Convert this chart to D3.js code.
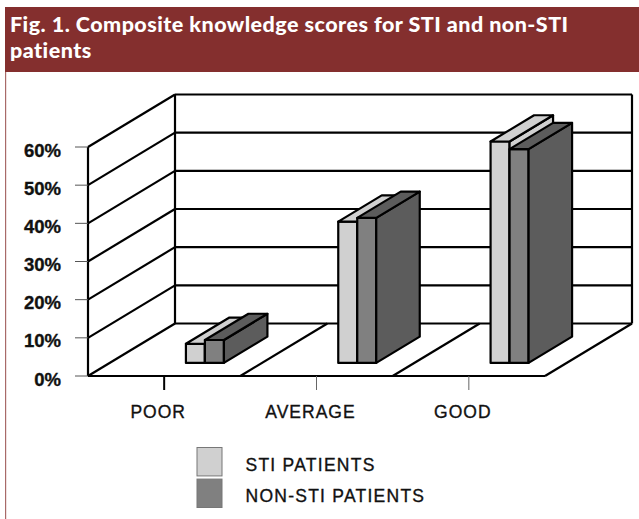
<!DOCTYPE html>
<html>
<head>
<meta charset="utf-8">
<script src="https://cdn.jsdelivr.net/npm/d3@7"></script>
<style>
  html, body { margin: 0; padding: 0; background: #fff; }
  svg { display: block; }
</style>
</head>
<body>
<div id="chart"></div>
<script>
const categories = ['POOR', 'AVERAGE', 'GOOD'];
const seriesNames = ['STI PATIENTS', 'NON-STI PATIENTS'];
const stiValues = [5, 37, 58];
const nonStiValues = [6, 38, 56];
const yTicks = [0, 10, 20, 30, 40, 50, 60];
const titleLines = ['Fig. 1. Composite knowledge scores for STI and non-STI', 'patients'];

const width = 639, height = 519;
const svg = d3.select('#chart').append('svg').attr('width', width).attr('height', height);

// Scales. The y scale goes to 60 at the front plane, depth is a 0..1 scale
const y = d3.scaleLinear().domain([0, 60]).range([376, 147]);
const x = d3.scaleBand().domain(categories).range([88, 545]);
const depthX = d3.scaleLinear().domain([0, 1]).range([0, 87]);
const depthY = d3.scaleLinear().domain([0, 1]).range([0, -52.5]);
const barW = 19;
const barDepth = [0.25, 0.75];
const lineW = 2.2;

// project a front-plane position back by depth z
const pt = (px, val, z) => [px + depthX(z), y(val) + depthY(z)];
const poly = pts => pts.map(p => p.join(',')).join(' ');
const seg = (g, a, b, sw = lineW, col = '#000') => g.append('line')
  .attr('x1', a[0]).attr('y1', a[1]).attr('x2', b[0]).attr('y2', b[1])
  .attr('stroke', col).attr('stroke-width', sw);
// same look for all the Arial-like labels, slight stroke to thicken them
const label = (sel, size) => sel
  .attr('font-family', '"Liberation Sans", Arial, sans-serif').attr('font-size', size)
  .attr('fill', '#111').attr('stroke', '#111').attr('stroke-width', 0.35);

// Header
svg.append('rect').attr('x', 5).attr('y', 7).attr('width', width - 5).attr('height', 65).attr('fill', '#842f2e');
svg.append('rect').attr('x', 5).attr('y', 72).attr('width', 1.2).attr('height', height - 72).attr('fill', '#a86a68');
svg.selectAll('text.title').data(titleLines).enter().append('text')
  .attr('class', 'title')
  .attr('x', 10).attr('y', (d, i) => 32 + i * 26)
  .attr('fill', '#fff')
  .attr('font-family', 'Lato, sans-serif').attr('font-weight', 900).attr('font-size', 21.5)
  .attr('letter-spacing', 0.46)
  .text(d => d);

// Walls and floor
const walls = svg.append('g');
const xLeft = x.range()[0], xRight = x.range()[1];
const yMax = d3.max(y.domain());
yTicks.filter(t => t > 0).forEach(t => seg(walls, pt(xLeft, t, 1), pt(xRight, t, 1)));
yTicks.forEach(t => seg(walls, pt(xLeft, t, 0), pt(xLeft, t, 1)));
seg(walls, pt(xLeft, 0, 0), pt(xLeft, yMax, 0));
seg(walls, pt(xLeft, 0, 1), pt(xLeft, yMax, 1));
seg(walls, pt(xRight, 0, 1), pt(xRight, yMax, 1));
seg(walls, pt(xLeft, 0, 1), pt(xRight, 0, 1));
seg(walls, pt(xLeft, 0, 0), pt(xRight, 0, 0));
seg(walls, pt(xRight, 0, 0), pt(xRight, 0, 1));
categories.slice(1).forEach(c => seg(walls, pt(x(c), 0, 0), pt(x(c), 0, 1)));

// Value ticks and labels
yTicks.forEach(t => {
  seg(walls, [75, y(t)], [xLeft, y(t)], 1, '#555');
  walls.append('text').attr('x', 61).attr('y', y(t) + 9.5)
    .attr('text-anchor', 'end')
    .attr('font-weight', 700)
    .call(label, 18.5).text(t + '%');
});

// Category ticks and labels
categories.forEach((c, i) => {
  const cx = x(c) + x.bandwidth() / 2;
  seg(walls, [cx, 376], [cx, 390], i === 0 ? 2 : 1, i === 0 ? '#000' : '#666');
  walls.append('text').attr('x', cx - 6).attr('y', 418)
    .attr('text-anchor', 'middle')
    .attr('letter-spacing', 1)
    .call(label, 17.5).text(c);
});

// Bars: STI behind, non-STI in front, drawn per category
const colors = [
  { front: '#d0d0d0', top: '#d0d0d0', side: '#d0d0d0' },
  { front: '#808080', top: '#5c5c5c', side: '#5c5c5c' }
];
const drawBar = (g, x0, val, c) => {
  const x1 = x0 + barW, [z0, z1] = barDepth;
  const faces = [
    { pts: [pt(x0, 0, z0), pt(x1, 0, z0), pt(x1, val, z0), pt(x0, val, z0)], fill: c.front },
    { pts: [pt(x1, 0, z0), pt(x1, 0, z1), pt(x1, val, z1), pt(x1, val, z0)], fill: c.side },
    { pts: [pt(x0, val, z0), pt(x1, val, z0), pt(x1, val, z1), pt(x0, val, z1)], fill: c.top }
  ];
  g.selectAll(null).data(faces).enter().append('polygon')
    .attr('points', d => poly(d.pts))
    .attr('fill', d => d.fill)
    .attr('stroke', '#000').attr('stroke-width', lineW).attr('stroke-linejoin', 'round');
};
const bars = svg.append('g');
categories.forEach((c, i) => {
  const x0 = x(c) + x.bandwidth() / 2;
  drawBar(bars, x0, stiValues[i], colors[0]);
  drawBar(bars, x0 + barW, nonStiValues[i], colors[1]);
});

// Legend
const legend = svg.append('g');
const legendY = d3.scaleBand().domain(seriesNames).range([447.5, 507.5]).paddingInner(0.1);
seriesNames.forEach((s, i) => {
  legend.append('rect').attr('x', 197).attr('y', legendY(s)).attr('width', 25).attr('height', legendY.bandwidth())
    .attr('fill', colors[i].front).attr('stroke', '#777').attr('stroke-width', 1);
  legend.append('text').attr('x', 245.5).attr('y', legendY(s) + 23)
    .attr('letter-spacing', 1.25)
    .call(label, 17.5).text(s);
});
</script>
</body>
</html>
